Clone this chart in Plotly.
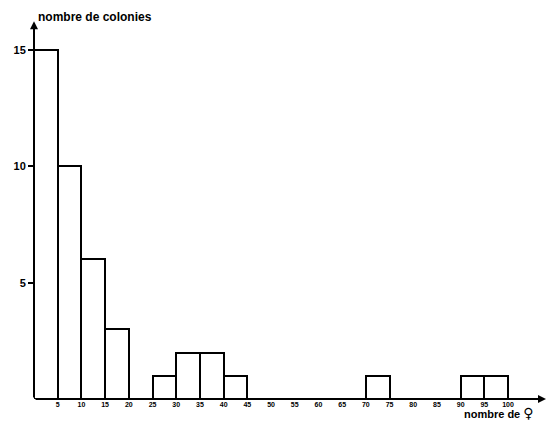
import plotly.graph_objects as go

# Data
bin_left = [0, 5, 10, 15, 20, 25, 30, 35, 40, 45, 50, 55, 60, 65, 70, 75, 80, 85, 90, 95]
counts = [15, 10, 6, 3, 0, 1, 2, 2, 1, 0, 0, 0, 0, 0, 1, 0, 0, 0, 1, 1]
bin_width = 5
x_ticks = [5, 10, 15, 20, 25, 30, 35, 40, 45, 50, 55, 60, 65, 70, 75, 80, 85, 90, 95, 100]
y_ticks = [5, 10, 15]

xs = [b for b, c in zip(bin_left, counts) if c > 0]
ys = [c for c in counts if c > 0]

FONT = "Liberation Sans, Arial, sans-serif"

fig = go.Figure()
fig.add_trace(go.Bar(
    x=xs, y=ys, width=bin_width, offset=0,
    marker=dict(color="white", line=dict(color="black", width=2)),
    hoverinfo="x+y",
))

fig.update_layout(
    width=550, height=422,
    margin=dict(l=34, r=4, t=20, b=23),
    paper_bgcolor="white", plot_bgcolor="white",
    showlegend=False,
    bargap=0,
    xaxis=dict(
        range=[0, 108], tickvals=x_ticks, ticktext=[str(v) for v in x_ticks],
        showgrid=False, zeroline=False, showline=False, ticks="", automargin=False,
        tickfont=dict(family=FONT, size=7, color="black", weight="bold"),
    ),
    yaxis=dict(
        range=[0, 16.3], tickvals=y_ticks, ticktext=[str(v) for v in y_ticks],
        showgrid=False, zeroline=False, showline=False, automargin=False,
        ticks="outside", ticklen=5, tickwidth=1.5, tickcolor="black",
        tickfont=dict(family=FONT, size=11, color="black", weight="bold"),
    ),
)

# Axes with arrows
fig.add_annotation(x=0, y=16.25, ax=0, ay=0, xref="x", yref="y", axref="x", ayref="y",
                   showarrow=True, arrowhead=2, arrowsize=0.8, arrowwidth=2, arrowcolor="black", text="")
fig.add_annotation(x=108, y=0, ax=0, ay=0, xref="x", yref="y", axref="x", ayref="y",
                   showarrow=True, arrowhead=2, arrowsize=0.8, arrowwidth=2, arrowcolor="black", text="")

fig.add_annotation(text="nombre de colonies", x=0, y=1.0, xref="paper", yref="paper",
                   xanchor="left", yanchor="bottom", xshift=2, yshift=-6, showarrow=False,
                   font=dict(family=FONT, size=12, color="black", weight="bold"))
fig.add_annotation(text='nombre de <span style="font-family:DejaVu Sans;font-size:14px">♀</span>',
                   x=1.0, y=0, xref="paper", yref="paper",
                   xanchor="right", yanchor="top", xshift=-10, yshift=-4, showarrow=False,
                   font=dict(family=FONT, size=11, color="black", weight="bold"))

fig.write_html("out.html", config={"displayModeBar": False},
               post_script="document.body.style.margin='0';")
